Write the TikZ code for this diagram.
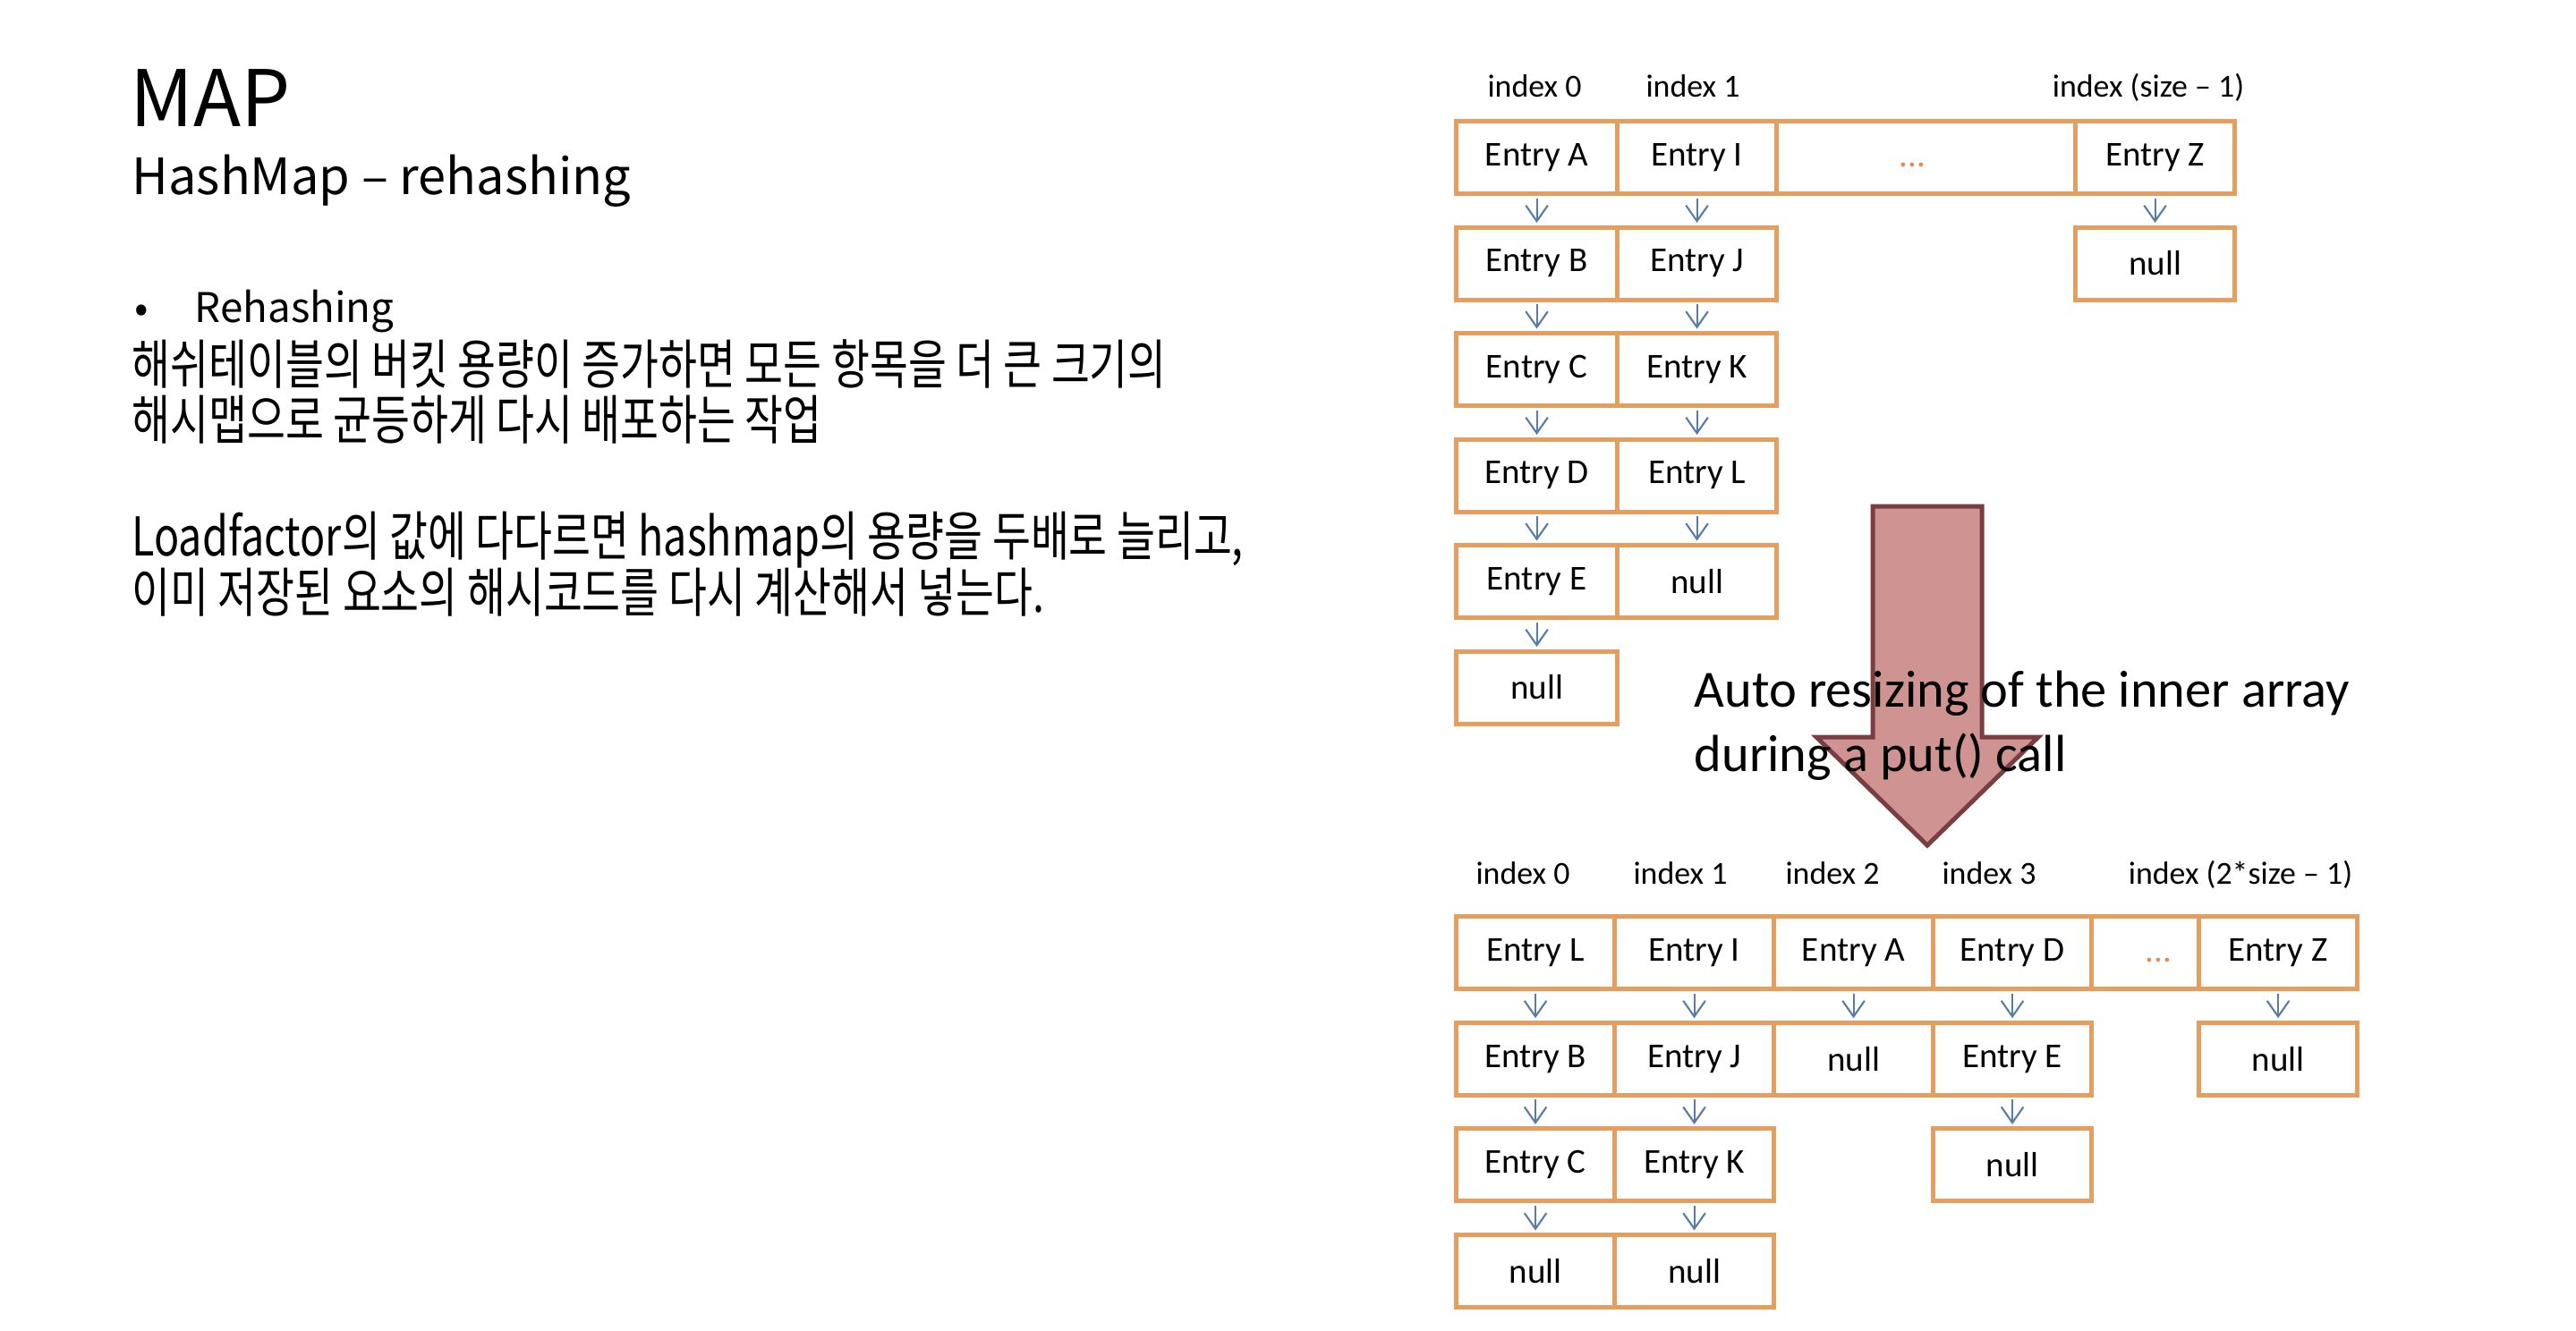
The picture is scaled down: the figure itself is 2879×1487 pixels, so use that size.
\documentclass[tikz,border=0pt]{standalone}
\usepackage{fontspec}
\setmainfont{Carlito}
\newfontfamily\krtitle{Noto Sans CJK KR}
\newfontfamily\krbody[FakeStretch=0.78]{Noto Sans CJK KR}
\usetikzlibrary{arrows.meta}
\definecolor{boxorange}{RGB}{228,158,96}
\definecolor{dotorange}{RGB}{222,140,80}
\definecolor{linkblue}{RGB}{88,124,168}
\definecolor{bigfill}{RGB}{207,148,146}
\definecolor{bigdraw}{RGB}{122,62,64}
\newcommand\myEntryFont{\fontsize{11.1pt}{13pt}\selectfont}
\newcommand\myIdxFont{\fontsize{10.2pt}{12pt}\selectfont}
\newcommand\myBigFont{\fontsize{16.6pt}{20pt}\selectfont}
\tikzset{
  cell/.style={draw=boxorange, line width=1.42pt, minimum height=0.81cm, inner sep=0pt, anchor=north west, font=\myEntryFont, text=black},
  idx/.style={anchor=base, font=\myIdxFont, text=black, inner sep=0pt},
  link/.style={draw=linkblue, line width=0.6pt, -{Straight Barb[length=5pt,width=7pt]}, shorten <=0.7pt, shorten >=0.7pt},
  ltxt/.style={anchor=base west, inner sep=0pt, text=black},
}
\begin{document}
\begin{tikzpicture}[x=0.01cm, y=-0.01cm]
\useasboundingbox (0,0) rectangle (2879,1487);
% ---------- left text ----------
\node[ltxt, font=\krtitle\fontsize{24.8pt}{28pt}\selectfont] (title) at (145,141) {MAP};
\node[ltxt, font=\krtitle\fontsize{15.9pt}{18pt}\selectfont] (subtitle) at (147,217) {HashMap – rehashing};
\node[ltxt, font=\krtitle\fontsize{13pt}{16pt}\selectfont] (bullet) at (150,360) {•};
\node[ltxt, font=\krtitle\fontsize{13pt}{16pt}\selectfont] (reh) at (217,360) {Rehashing};
\node[ltxt, font=\krbody\fontsize{17pt}{20pt}\selectfont] (k1) at (147,429) {해쉬테이블의 버킷 용량이 증가하면 모든 항목을 더 큰 크기의};
\node[ltxt, font=\krbody\fontsize{17pt}{20pt}\selectfont] (k2) at (147,491) {해시맵으로 균등하게 다시 배포하는 작업};
\node[ltxt, font=\krbody\fontsize{17pt}{20pt}\selectfont] (k3) at (147,621) {Loadfactor의 값에 다다르면 hashmap의 용량을 두배로 늘리고,};
\node[ltxt, font=\krbody\fontsize{17pt}{20pt}\selectfont] (k4) at (147,684) {이미 저장된 요소의 해시코드를 다시 계산해서 넣는다.};
% ---------- top array ----------
\node[idx] (ti0) at (1715,108) {index 0};
\node[idx] (ti1) at (1892,108) {index 1};
\node[idx] (tiz) at (2401,108) {index (size – 1)};
% row 0
\node[cell, minimum width=1.80cm] (tA) at (1625,133) {Entry A};
\node[cell, minimum width=1.78cm] (tI) at (1805,133) {Entry I};
\node[cell, minimum width=3.34cm, text=dotorange] (tdots) at (1983,133) {\hspace*{-0.3cm}\raisebox{-1.1ex}{...}};
\node[cell, minimum width=1.78cm] (tZ) at (2317,133) {Entry Z};
% row 1
\node[cell, minimum width=1.80cm] (tB) at (1625,251.5) {Entry B};
\node[cell, minimum width=1.78cm] (tJ) at (1805,251.5) {Entry J};
\node[cell, minimum width=1.78cm] (tZn) at (2317,251.5) {null};
% row 2
\node[cell, minimum width=1.80cm] (tC) at (1625,370) {Entry C};
\node[cell, minimum width=1.78cm] (tK) at (1805,370) {Entry K};
% row 3
\node[cell, minimum width=1.80cm] (tD) at (1625,488.5) {Entry D};
\node[cell, minimum width=1.78cm] (tL) at (1805,488.5) {Entry L};
% row 4
\node[cell, minimum width=1.80cm] (tE) at (1625,607) {Entry E};
\node[cell, minimum width=1.78cm] (tLn) at (1805,607) {null};
% row 5
\node[cell, minimum width=1.80cm] (tEn) at (1625,725.5) {null};
% links
\draw[link] (tA.south) -- (tB.north);
\draw[link] (tB.south) -- (tC.north);
\draw[link] (tC.south) -- (tD.north);
\draw[link] (tD.south) -- (tE.north);
\draw[link] (tE.south) -- (tEn.north);
\draw[link] (tI.south) -- (tJ.north);
\draw[link] (tJ.south) -- (tK.north);
\draw[link] (tK.south) -- (tL.north);
\draw[link] (tL.south) -- (tLn.north);
\draw[link] (tZ.south) -- (tZn.north);
% ---------- big arrow ----------
\draw[fill=bigfill, draw=bigdraw, line width=1.42pt, line join=miter]
  (2093,566) -- (2215,566) -- (2215,824) -- (2278,824) -- (2154,945) -- (2030,824) -- (2093,824) -- cycle;
\node[ltxt, font=\myBigFont] (auto1) at (1893,790) {Auto resizing of the inner array};
\node[ltxt, font=\myBigFont] (auto2) at (1893,862) {during a put() call};
% ---------- bottom array ----------
\node[idx] (bi0) at (1702,988) {index 0};
\node[idx] (bi1) at (1878,988) {index 1};
\node[idx] (bi2) at (2048,988) {index 2};
\node[idx] (bi3) at (2223,988) {index 3};
\node[idx] (biz) at (2504,988) {index (2*size – 1)};
% row 0
\node[cell, minimum width=1.77cm] (bL) at (1625,1022) {Entry L};
\node[cell, minimum width=1.78cm] (bI) at (1802,1022) {Entry I};
\node[cell, minimum width=1.78cm] (bA) at (1980,1022) {Entry A};
\node[cell, minimum width=1.77cm] (bD) at (2158,1022) {Entry D};
\node[cell, minimum width=1.20cm, text=dotorange] (bdots) at (2335,1022) {\hspace*{0.3cm}\raisebox{-1.1ex}{...}};
\node[cell, minimum width=1.77cm] (bZ) at (2455,1022) {Entry Z};
% row 1
\node[cell, minimum width=1.77cm] (bB) at (1625,1140.7) {Entry B};
\node[cell, minimum width=1.78cm] (bJ) at (1802,1140.7) {Entry J};
\node[cell, minimum width=1.78cm] (bAn) at (1980,1140.7) {null};
\node[cell, minimum width=1.77cm] (bE) at (2158,1140.7) {Entry E};
\node[cell, minimum width=1.77cm] (bZn) at (2455,1140.7) {null};
% row 2
\node[cell, minimum width=1.77cm] (bC) at (1625,1259.4) {Entry C};
\node[cell, minimum width=1.78cm] (bK) at (1802,1259.4) {Entry K};
\node[cell, minimum width=1.77cm] (bEn) at (2158,1259.4) {null};
% row 3
\node[cell, minimum width=1.77cm] (bCn) at (1625,1378) {null};
\node[cell, minimum width=1.78cm] (bKn) at (1802,1378) {null};
% links
\draw[link] (bL.south) -- (bB.north);
\draw[link] (bB.south) -- (bC.north);
\draw[link] (bC.south) -- (bCn.north);
\draw[link] (bI.south) -- (bJ.north);
\draw[link] (bJ.south) -- (bK.north);
\draw[link] (bK.south) -- (bKn.north);
\draw[link] (bA.south) -- (bAn.north);
\draw[link] (bD.south) -- (bE.north);
\draw[link] (bE.south) -- (bEn.north);
\draw[link] (bZ.south) -- (bZn.north);
\end{tikzpicture}
\end{document}
